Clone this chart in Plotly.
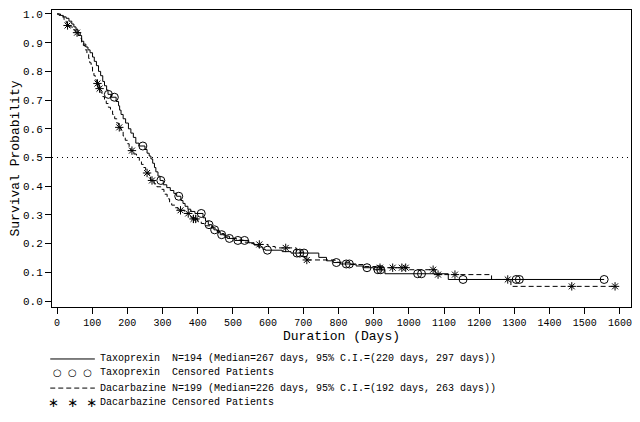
import numpy as np
import plotly.graph_objects as go

# Kaplan-Meier steps: day of event, survival after it
tax_days = [0, 10, 18, 26, 34, 42, 48, 54, 60, 66, 70, 76, 82, 88, 94, 101, 106, 112,
            118, 124, 130, 135, 141, 145, 155, 168, 175, 178, 182, 188, 195, 203, 210,
            217, 224, 233, 250, 256, 262, 267, 272, 277, 281, 287, 293, 302, 312, 322,
            332, 340, 352, 358, 364, 372, 380, 392, 415, 422, 430, 440, 446, 456, 464,
            478, 484, 505, 545, 560, 572, 585, 592, 640, 665, 744, 766, 785, 805, 850,
            870, 900, 932, 1112, 1555]
tax_surv = [1.000, 0.995, 0.990, 0.985, 0.975, 0.965, 0.955, 0.945, 0.935, 0.925, 0.905,
            0.895, 0.885, 0.875, 0.865, 0.850, 0.835, 0.820, 0.800, 0.785, 0.765, 0.750,
            0.735, 0.720, 0.710, 0.695, 0.680, 0.665, 0.650, 0.635, 0.620, 0.600, 0.585,
            0.570, 0.550, 0.540, 0.528, 0.515, 0.505, 0.495, 0.480, 0.465, 0.450, 0.435,
            0.420, 0.405, 0.395, 0.385, 0.375, 0.365, 0.350, 0.340, 0.330, 0.320, 0.312,
            0.305, 0.290, 0.278, 0.266, 0.255, 0.248, 0.240, 0.231, 0.222, 0.218, 0.211,
            0.203, 0.195, 0.188, 0.180, 0.177, 0.172, 0.167, 0.152, 0.140, 0.134, 0.129,
            0.122, 0.116, 0.109, 0.095, 0.075, 0.075]
tax_cens_days = [146, 163, 244, 295, 346, 410, 432, 448, 468, 490, 514, 533, 598, 682,
                 690, 702, 794, 822, 831, 881, 912, 920, 1025, 1036, 1154, 1305, 1314, 1555]

dac_days = [0, 6, 14, 20, 26, 29, 36, 44, 52, 60, 66, 70, 75, 80, 85, 90, 93, 97, 101,
            105, 109, 113, 119, 125, 130, 135, 140, 146, 152, 158, 164, 170, 175, 182,
            188, 194, 200, 205, 210, 218, 226, 234, 240, 246, 252, 262, 266, 276, 284,
            295, 304, 313, 320, 326, 336, 344, 362, 380, 386, 400, 410, 422, 435, 450,
            462, 475, 490, 510, 530, 545, 560, 600, 620, 680, 700, 705, 790, 830, 870,
            905, 1000, 1075, 1235, 1290, 1586]
dac_surv = [1.000, 0.995, 0.990, 0.980, 0.970, 0.960, 0.955, 0.945, 0.935, 0.925, 0.915,
            0.900, 0.890, 0.875, 0.860, 0.845, 0.830, 0.815, 0.800, 0.785, 0.770, 0.758,
            0.740, 0.725, 0.712, 0.700, 0.688, 0.675, 0.662, 0.650, 0.635, 0.620, 0.605,
            0.590, 0.575, 0.560, 0.548, 0.535, 0.524, 0.512, 0.500, 0.488, 0.476, 0.465,
            0.446, 0.432, 0.420, 0.408, 0.398, 0.389, 0.372, 0.356, 0.345, 0.334, 0.325,
            0.316, 0.305, 0.292, 0.286, 0.278, 0.270, 0.262, 0.255, 0.245, 0.235, 0.226,
            0.218, 0.212, 0.205, 0.200, 0.197, 0.190, 0.185, 0.170, 0.155, 0.143, 0.135,
            0.127, 0.120, 0.116, 0.109, 0.092, 0.075, 0.051, 0.051]
dac_cens_days = [30, 57, 115, 121, 177, 213, 256, 270, 351, 373, 388, 394, 575, 650, 710,
                 918, 954, 980, 991, 1069, 1083, 1131, 1281, 1463, 1586]

legend_rows = [
    "Taxoprexin  N=194 (Median=267 days, 95% C.I.=(220 days, 297 days))",
    "Taxoprexin  Censored Patients",
    "Dacarbazine N=199 (Median=226 days, 95% C.I.=(192 days, 263 days))",
    "Dacarbazine Censored Patients",
]

FONT = "Liberation Mono"


def surv_at(days, surv, t):
    """Survival level of a step curve at the censoring times."""
    idx = np.searchsorted(days, t, side="right") - 1
    return np.asarray(surv)[idx]


fig = go.Figure()
fig.add_trace(go.Scatter(x=tax_days, y=tax_surv, mode="lines", line_shape="hv",
                         line=dict(color="black", width=1)))
fig.add_trace(go.Scatter(x=tax_cens_days, y=surv_at(tax_days, tax_surv, tax_cens_days),
                         mode="markers",
                         marker=dict(symbol="circle-open", size=8, color="black",
                                     line=dict(width=1))))
fig.add_trace(go.Scatter(x=dac_days, y=dac_surv, mode="lines", line_shape="hv",
                         line=dict(color="black", width=1, dash="5px,3px")))
fig.add_trace(go.Scatter(x=dac_cens_days, y=surv_at(dac_days, dac_surv, dac_cens_days),
                         mode="markers",
                         marker=dict(symbol="asterisk-open", size=7, color="black",
                                     line=dict(width=1, color="black"))))

fig.add_hline(y=0.5, line=dict(color="black", width=1, dash="1px,4px"))

# hand-made legend under the plot
row_y = [-0.175, -0.222, -0.273, -0.320]
sample = dict(type="line", xref="paper", yref="paper", x0=-0.003, x1=0.074)
fig.add_shape(**sample, y0=row_y[0], y1=row_y[0], line=dict(color="black", width=1))
fig.add_shape(**sample, y0=row_y[2], y1=row_y[2],
              line=dict(color="black", width=1, dash="5px,3px"))
fig.add_annotation(xref="paper", yref="paper", x=0.036, y=row_y[1], text="○  ○  ○",
                   xanchor="center", yanchor="middle", showarrow=False,
                   font=dict(family="DejaVu Sans", size=10, color="black"))
fig.add_annotation(xref="paper", yref="paper", x=0.036, y=row_y[3], text="∗  ∗  ∗",
                   xanchor="center", yanchor="middle", showarrow=False,
                   font=dict(family="DejaVu Sans", size=13, color="black"))
for text, yy in zip(legend_rows, row_y):
    fig.add_annotation(xref="paper", yref="paper", x=0.079, y=yy, text=text,
                       xanchor="left", yanchor="middle", showarrow=False,
                       font=dict(family=FONT, size=10, color="black"))

axis_common = dict(showline=True, linecolor="black", linewidth=1, mirror=True,
                   ticks="outside", ticklen=6, tickcolor="black", showgrid=False,
                   zeroline=False, automargin=False)
fig.update_xaxes(range=[-14.2, 1631.3], tickmode="linear", tick0=0, dtick=100,
                 title=dict(text="Duration (Days)", standoff=1,
                            font=dict(family=FONT, size=13)),
                 tickfont=dict(family=FONT, size=10), **axis_common)
fig.update_yaxes(range=[-0.0209, 1.0139], tickmode="linear", tick0=0, dtick=0.1,
                 tickformat=".1f",
                 title=dict(text="Survival Probability", standoff=2,
                            font=dict(family=FONT, size=13)),
                 tickfont=dict(family=FONT, size=11), **axis_common)
# page body adds 8px, so the figure is drawn smaller with margins shifted
fig.update_layout(width=624, height=406, margin=dict(l=44, r=1, t=2, b=107),
                  plot_bgcolor="white", paper_bgcolor="white", showlegend=False,
                  font=dict(family=FONT, color="black"))

fig.write_html("out.html")
